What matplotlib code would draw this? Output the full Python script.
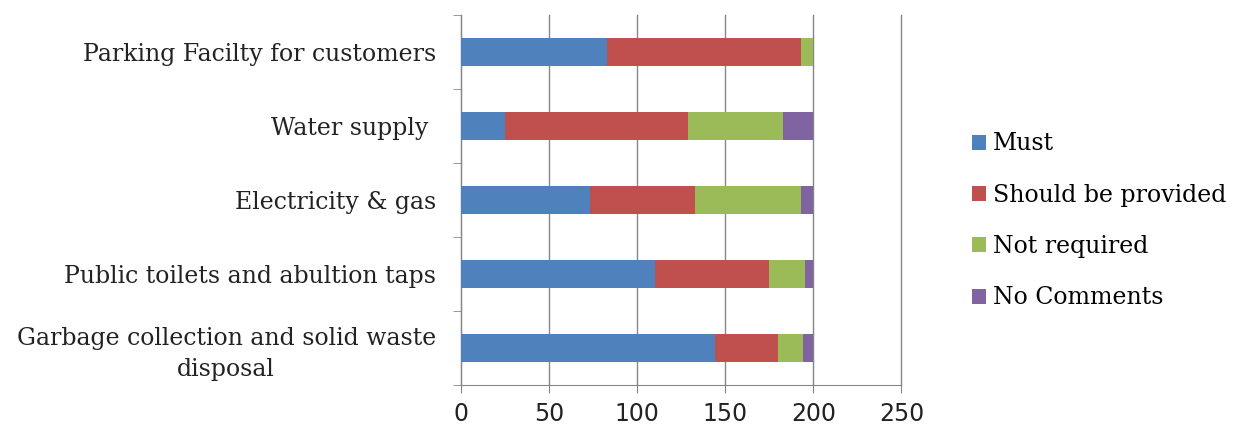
import numpy as np
import matplotlib
matplotlib.use("Agg")
import matplotlib.pyplot as plt

# data, top to bottom as in the chart
categories = ["Parking Facilty for customers", "Water supply ", "Electricity & gas",
              "Public toilets and abultion taps", "Garbage collection and solid waste\ndisposal"]
series = ["Must", "Should be provided", "Not required", "No Comments"]
must = [83, 25, 73, 110, 144]
should = [110, 104, 60, 65, 36]
not_req = [7, 54, 60, 20, 14]
no_comm = [0, 17, 7, 5, 6]
colors = ["#4F81BD", "#C0504D", "#9BBB59", "#8064A2"]
xticks = [0, 50, 100, 150, 200, 250]

fig = plt.figure(figsize=(12.39, 4.33), dpi=100)
ax = fig.add_axes([0.372, 0.111, 0.3556, 0.8545])

y = np.arange(len(categories))
left = np.zeros(len(categories))
for vals, name, c in zip([must, should, not_req, no_comm], series, colors):
    ax.barh(y, vals, left=left, height=0.37, color=c, label=name, zorder=3)
    left += np.array(vals)

ax.set_ylim(len(categories) - 0.5, -0.5)
ax.set_xlim(0, 250)
ax.set_xticks(xticks)
ax.set_xticklabels([str(t) for t in xticks], fontsize=17, family="DejaVu Sans", color="#222222")
ax.set_yticks(y)
ax.set_yticklabels(categories, fontsize=17, family="DejaVu Serif", color="#222222",
                   multialignment="center", linespacing=1.4)
ax.tick_params(axis="y", length=0, pad=18)
ax.set_yticks(np.arange(-0.5, len(categories)), minor=True)
ax.tick_params(axis="y", which="minor", length=6, color="#868686")
ax.tick_params(axis="x", length=6, color="#868686", pad=6)

ax.grid(axis="x", color="#868686", linewidth=1.0, zorder=0)
for gl in ax.get_xgridlines():
    gl.set_clip_on(False)
for s in ["top", "right"]:
    ax.spines[s].set_visible(False)
for s in ["left", "bottom"]:
    ax.spines[s].set_color("#868686")

fig.legend(loc="center left", bbox_to_anchor=(0.767, 0.49), frameon=False,
           prop={"family": "DejaVu Serif", "size": 17},
           handlelength=0.6, handleheight=0.6, handletextpad=0.3, labelspacing=1.2)

fig.savefig("out.png", dpi=100)
